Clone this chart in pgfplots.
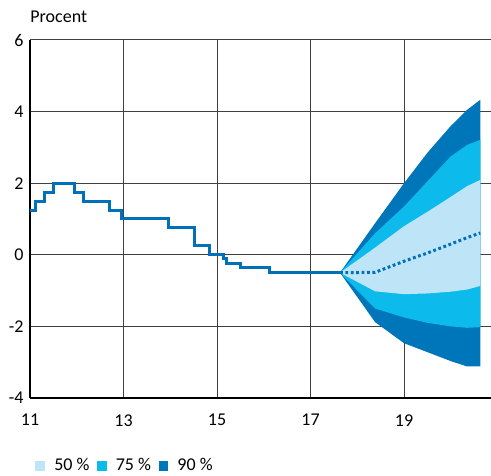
\documentclass[border=0pt]{standalone}
\usepackage{fontspec}
\setmainfont{Carlito}
\usepackage{pgfplots}
\pgfplotsset{compat=1.18}
\definecolor{cfifty}{RGB}{190,228,248}
\definecolor{cseventy}{RGB}{12,186,236}
\definecolor{cninety}{RGB}{0,118,186}
\definecolor{cline}{RGB}{0,112,184}
\begin{document}
\fontsize{9}{11}\selectfont
\begin{tikzpicture}
\path[use as bounding box] (-15pt,-38.5pt) rectangle (230.5pt,199pt);
\begin{axis}[
  scale only axis, width=230.5pt, height=179pt,
  xmin=11, xmax=20.86, ymin=-4, ymax=6,
  axis x line*=bottom, axis y line*=left,
  axis line style={line width=0.8pt, black, -},
  xtick={11,13,15,17,19}, xticklabels={11,13,15,17,19},
  ytick={-4,-2,0,2,4,6}, yticklabels={-4,-2,0,2,4,6},
  major tick length=0pt,
  grid=major, grid style={line width=0.5pt, black!75},
  tick label style={font=\fontsize{9}{11}\selectfont},
  xticklabel style={yshift=-5pt},
  legend style={at={(0.011,-0.19)}, anchor=west, draw=none, fill=none,
    inner sep=0pt, font=\fontsize{9}{11}\selectfont,
    nodes={inner sep=1pt},
    /tikz/every even column/.append style={column sep=2.8pt},
    /tikz/every odd column/.append style={column sep=3.6pt}},
  legend columns=-1,
  legend image code/.code={\fill[#1] (0pt,-2.4pt) rectangle (4.8pt,2.4pt);},
]
% 90 % band
\addplot[fill=cninety, draw=none, forget plot] coordinates {
 (17.63,-0.5) (18.38,0.88) (19.0,2.0) (19.5,2.85) (20.0,3.6) (20.35,4.05) (20.63,4.33)
 (20.63,-3.12) (20.35,-3.12) (20.0,-2.97) (19.5,-2.72) (19.0,-2.47) (18.38,-1.88)
} -- cycle;
% 75 % band
\addplot[fill=cseventy, draw=none, forget plot] coordinates {
 (17.63,-0.5) (18.38,0.6) (19.0,1.35) (19.5,2.05) (20.0,2.75) (20.35,3.07) (20.63,3.21)
 (20.63,-2.02) (20.35,-2.04) (20.0,-2.0) (19.5,-1.9) (19.0,-1.75) (18.38,-1.5)
} -- cycle;
% 50 % band
\addplot[fill=cfifty, draw=none, forget plot] coordinates {
 (17.63,-0.5) (18.38,0.2) (19.0,0.8) (19.5,1.2) (20.0,1.62) (20.35,1.92) (20.63,2.09)
 (20.63,-0.87) (20.35,-0.97) (20.0,-1.03) (19.5,-1.08) (19.0,-1.1) (18.38,-1.02)
} -- cycle;
% median forecast
\addplot[cline, line width=1.5pt, dash pattern=on 1.4pt off 1.3pt, forget plot] coordinates {
 (17.63,-0.5) (18.38,-0.49) (19.0,-0.18) (19.5,0.05) (20.0,0.3) (20.35,0.48) (20.63,0.61)
};
% repo rate outcome
\addplot[cline, line width=1.5pt, const plot, forget plot] coordinates {
 (11,1.25) (11.107,1.5) (11.31,1.75) (11.5,2.0) (11.96,1.75) (12.14,1.5) (12.71,1.25)
 (12.96,1.0) (13.96,0.75) (14.51,0.25) (14.83,0.0) (15.13,-0.1) (15.2,-0.25)
 (15.51,-0.35) (16.13,-0.5) (17.63,-0.5)
};
\addlegendimage{fill=cfifty, draw=none}
\addlegendentry{50 \%}
\addlegendimage{fill=cseventy, draw=none}
\addlegendentry{75 \%}
\addlegendimage{fill=cninety, draw=none}
\addlegendentry{90 \%}
\end{axis}
\node[anchor=west, inner sep=0pt] at (0pt,190.5pt) {Procent};
\end{tikzpicture}
\end{document}
